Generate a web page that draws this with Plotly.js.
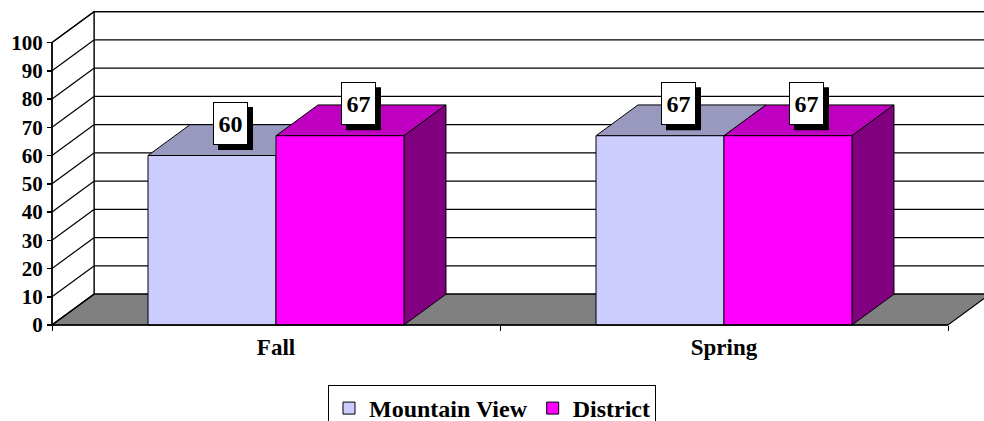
<!DOCTYPE html>
<html>
<head>
<meta charset="utf-8">
<script src="https://cdn.plot.ly/plotly-3.0.1.min.js"></script>
<style>html,body{margin:0;padding:0;background:#fff;}#chart{width:984px;height:421px;}</style>
</head>
<body>
<div id="chart"></div>
<script>
// ---- data ----
const categories = ['Fall', 'Spring'];
const seriesNames = ['Mountain View', 'District'];
const mountainView = [60, 67];
const district = [67, 67];
const yTickVals = [0, 10, 20, 30, 40, 50, 60, 70, 80, 90, 100];

// ---- styles / geometry ----
const FONT = 'Liberation Serif';
const FRONT = ['#CCCCFF', '#FF00FF'];
const TOP = ['#9999C0', '#C000C0'];
const SIDE = ['#66668C', '#800080'];
const BAR_W = 0.2857;      // width of one bar in category units
const DX = 0.09375;        // depth offset (category units)
const DY = 10.9;           // depth offset (value units)
const XL = -0.5, XR = 1.5; // floor front edge
const X_RANGE = [-0.50893, 1.58036];
const Y_RANGE = [-0.708, 114.34];
const YMAX = 100;
const LBL_W = 35, LBL_H = 43, LBL_DROP = 5, LBL_XS = -2.5, SHADOW = 5, LBL_PAD = 4;

const seriesVals = [mountainView, district];
const offsets = [-BAR_W, 0];

const traces = seriesVals.map((vals, s) => ({
  type: 'bar',
  name: seriesNames[s],
  x: categories,
  y: vals,
  offset: offsets[s],
  width: BAR_W,
  marker: {color: FRONT[s], line: {color: '#000', width: 1}},
  hoverinfo: 'skip'
}));

const shapes = [];
const ln = {color: '#000', width: 1.2};
// back wall
shapes.push({type: 'rect', xref: 'x', yref: 'y', layer: 'below', x0: XL + DX, x1: 3, y0: DY, y1: YMAX + DY,
  fillcolor: '#fff', line: ln});
// left wall
shapes.push({type: 'path', xref: 'x', yref: 'y', layer: 'below',
  path: `M ${XL},0 L ${XL + DX},${DY} L ${XL + DX},${YMAX + DY} L ${XL},${YMAX} Z`,
  fillcolor: '#fff', line: ln});
// floor
shapes.push({type: 'path', xref: 'x', yref: 'y', layer: 'below',
  path: `M ${XL},0 L ${XR},0 L ${XR + DX},${DY} L ${XL + DX},${DY} Z`,
  fillcolor: '#808080', line: ln});
// gridlines on back wall + diagonals on left wall
yTickVals.forEach(v => {
  if (v > 0) shapes.push({type: 'line', xref: 'x', yref: 'y', layer: 'below',
    x0: XL + DX, x1: 3, y0: v + DY, y1: v + DY, line: ln});
  shapes.push({type: 'line', xref: 'x', yref: 'y', layer: 'below',
    x0: XL, x1: XL + DX, y0: v, y1: v + DY, line: ln});
});
// front y-axis line
shapes.push({type: 'line', xref: 'x', yref: 'y', layer: 'below', x0: XL, x1: XL, y0: 0, y1: YMAX, line: {color: '#000', width: 1.5}});

// bar top and side faces
categories.forEach((c, i) => {
  seriesVals.forEach((vals, s) => {
    const v = vals[i];
    const a = i + offsets[s], b = a + BAR_W;
    shapes.push({type: 'path', xref: 'x', yref: 'y', layer: 'below',
      path: `M ${a},${v} L ${b},${v} L ${b + DX},${v + DY} L ${a + DX},${v + DY} Z`,
      fillcolor: TOP[s], line: {color: '#000', width: 1}});
    if (s === seriesVals.length - 1) {
      shapes.push({type: 'path', xref: 'x', yref: 'y', layer: 'below',
        path: `M ${b},0 L ${b + DX},${DY} L ${b + DX},${v + DY} L ${b},${v} Z`,
        fillcolor: SIDE[s], line: {color: '#000', width: 1}});
    }
  });
});
// front floor edge
shapes.push({type: 'line', xref: 'x', yref: 'y', layer: 'above', x0: XL, x1: XR, y0: 0, y1: 0, line: {color: '#000', width: 1.5}});

// value labels: shadow (shape) + white box (annotation)
const annotations = [];
categories.forEach((c, i) => {
  seriesVals.forEach((vals, s) => {
    const v = vals[i];
    const cx = i + offsets[s] + BAR_W / 2 + DX / 2;
    const cy = v + DY / 2;
    shapes.push({type: 'rect', xref: 'x', yref: 'y', layer: 'above',
      xsizemode: 'pixel', ysizemode: 'pixel', xanchor: cx, yanchor: cy,
      x0: LBL_XS - LBL_W / 2 + SHADOW, x1: LBL_XS + LBL_W / 2 + SHADOW,
      y0: -LBL_DROP - SHADOW, y1: -LBL_DROP - SHADOW + LBL_H,
      fillcolor: '#000', line: {width: 0}});
    annotations.push({xref: 'x', yref: 'y', x: cx, y: cy, xanchor: 'center', yanchor: 'bottom',
      xshift: LBL_XS, yshift: -LBL_DROP, text: String(v), showarrow: false,
      width: LBL_W - 2 * LBL_PAD - 2, height: LBL_H - 2 * LBL_PAD - 2, borderpad: LBL_PAD, borderwidth: 1,
      bgcolor: '#fff', bordercolor: '#000',
      font: {family: FONT, size: 24, weight: 'bold', color: '#000'}});
  });
});

const layout = {
  width: 984, height: 421,
  margin: {l: 48, r: 0, t: 2, b: 94},
  paper_bgcolor: '#fff', plot_bgcolor: '#fff',
  showlegend: true,
  barmode: 'overlay',
  font: {family: FONT, color: '#000'},
  xaxis: {
    type: 'category', categoryorder: 'array', categoryarray: categories,
    range: X_RANGE, fixedrange: true,
    anchor: 'free', position: (0 - Y_RANGE[0]) / (Y_RANGE[1] - Y_RANGE[0]),
    showline: false, showgrid: false, zeroline: false,
    tickson: 'boundaries', ticks: 'outside', ticklen: 5, tickcolor: '#000', tickwidth: 1,
    ticklabelstandoff: 6,
    tickfont: {family: FONT, size: 23, weight: 'bold', color: '#000'}
  },
  yaxis: {
    range: Y_RANGE, fixedrange: true,
    anchor: 'free', position: (XL - X_RANGE[0]) / (X_RANGE[1] - X_RANGE[0]),
    tickmode: 'array', tickvals: yTickVals, ticktext: yTickVals.map(String),
    showline: false, showgrid: false, zeroline: false,
    ticks: 'outside', ticklen: 5, tickcolor: '#000', tickwidth: 1.5,
    tickfont: {family: FONT, size: 21, weight: 'bold', color: '#000'}
  },
  legend: {
    orientation: 'h', xref: 'container', yref: 'container',
    x: 0.5, xanchor: 'center', y: 1 - 385 / 421, yanchor: 'top',
    bordercolor: '#000', borderwidth: 1, bgcolor: '#fff',
    font: {family: FONT, size: 24, weight: 'bold', color: '#000'},
    itemclick: false, itemdoubleclick: false
  },
  shapes: shapes,
  annotations: annotations
};

Plotly.newPlot('chart', traces, layout, {staticPlot: true, displayModeBar: false});
</script>
</body>
</html>
